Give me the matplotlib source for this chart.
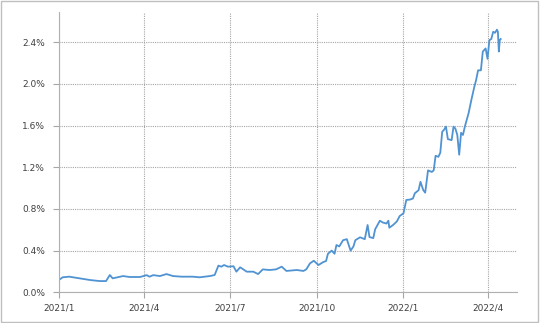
import matplotlib
matplotlib.use("Agg")
import matplotlib.pyplot as plt
from matplotlib.ticker import FuncFormatter, MultipleLocator
from matplotlib.patches import Rectangle
import numpy as np

# 日付と値 (%) — 画像から読み取り
dates = [
    "2021-01-01", "2021-01-05", "2021-01-12", "2021-01-23", "2021-02-03",
    "2021-02-13", "2021-02-20", "2021-02-24", "2021-02-27", "2021-03-10",
    "2021-03-17", "2021-03-28", "2021-04-04", "2021-04-07", "2021-04-11",
    "2021-04-18", "2021-04-25", "2021-05-02", "2021-05-11", "2021-05-23",
    "2021-05-30", "2021-06-10", "2021-06-15", "2021-06-19", "2021-06-22",
    "2021-06-25", "2021-06-29", "2021-07-05", "2021-07-08", "2021-07-12",
    "2021-07-19", "2021-07-26", "2021-07-31", "2021-08-05", "2021-08-12",
    "2021-08-19", "2021-08-25", "2021-08-30", "2021-09-10", "2021-09-17",
    "2021-09-20", "2021-09-24", "2021-09-28", "2021-10-03", "2021-10-08",
    "2021-10-11", "2021-10-13", "2021-10-17", "2021-10-20", "2021-10-22",
    "2021-10-25", "2021-10-29", "2021-11-02", "2021-11-04", "2021-11-06",
    "2021-11-09", "2021-11-11", "2021-11-16", "2021-11-21", "2021-11-24",
    "2021-11-26", "2021-11-30", "2021-12-02", "2021-12-07", "2021-12-10",
    "2021-12-14", "2021-12-16", "2021-12-17", "2021-12-21", "2021-12-25",
    "2021-12-28", "2022-01-01", "2022-01-04", "2022-01-08", "2022-01-11",
    "2022-01-13", "2022-01-17", "2022-01-19", "2022-01-22", "2022-01-24",
    "2022-01-27", "2022-01-31", "2022-02-02", "2022-02-04", "2022-02-07",
    "2022-02-09", "2022-02-11", "2022-02-13", "2022-02-15", "2022-02-17",
    "2022-02-21", "2022-02-23", "2022-02-25", "2022-02-27", "2022-03-01",
    "2022-03-03", "2022-03-05", "2022-03-07", "2022-03-11", "2022-03-14",
    "2022-03-17", "2022-03-19", "2022-03-21", "2022-03-24", "2022-03-26",
    "2022-03-29", "2022-03-31", "2022-04-02", "2022-04-04", "2022-04-06",
    "2022-04-08", "2022-04-10", "2022-04-11", "2022-04-12", "2022-04-13",
    "2022-04-14",
]
values = [
    0.118, 0.144, 0.150, 0.134, 0.118,
    0.108, 0.108, 0.166, 0.134, 0.156,
    0.147, 0.147, 0.165, 0.150, 0.165,
    0.156, 0.175, 0.156, 0.150, 0.150,
    0.144, 0.156, 0.166, 0.256, 0.246,
    0.262, 0.246, 0.250, 0.198, 0.240,
    0.198, 0.198, 0.175, 0.220, 0.214,
    0.220, 0.246, 0.205, 0.214, 0.205,
    0.220, 0.278, 0.303, 0.262, 0.290,
    0.300, 0.370, 0.400, 0.370, 0.454,
    0.440, 0.500, 0.510, 0.454, 0.400,
    0.440, 0.500, 0.528, 0.510, 0.646,
    0.530, 0.520, 0.605, 0.687, 0.670,
    0.660, 0.687, 0.620, 0.646, 0.680,
    0.732, 0.758, 0.886, 0.890, 0.900,
    0.950, 0.980, 1.060, 0.980, 0.956,
    1.170, 1.155, 1.170, 1.310, 1.300,
    1.340, 1.540, 1.560, 1.590, 1.470,
    1.460, 1.590, 1.570, 1.510, 1.320,
    1.530, 1.510, 1.590, 1.720, 1.850,
    1.970, 2.040, 2.130, 2.130, 2.310,
    2.340, 2.240, 2.420, 2.430, 2.500,
    2.490, 2.520, 2.500, 2.310, 2.420,
    2.430,
]
x_ticks = ["2021-01-01", "2021-04-01", "2021-07-01", "2021-10-01", "2022-01-01", "2022-04-01"]
x_labels = ["2021/1", "2021/4", "2021/7", "2021/10", "2022/1", "2022/4"]

x = np.array(dates, dtype="datetime64[D]")
y = np.array(values)

fig = plt.figure(figsize=(5.4, 3.23), dpi=100)
fig.patch.set_facecolor("white")
ax = fig.add_axes([0.109, 0.095, 0.848, 0.868])

ax.plot(x, y, color="#5093d2", linewidth=1.3)

ax.set_xlim(np.datetime64("2021-01-01"), np.datetime64("2022-05-01"))
ax.set_ylim(0, 2.69)
ax.yaxis.set_major_locator(MultipleLocator(0.4))
ax.yaxis.set_major_formatter(FuncFormatter(lambda v, p: f"{v:.1f}%"))
ax.set_xticks(np.array(x_ticks, dtype="datetime64[D]"))
ax.set_xticklabels(x_labels)

ax.grid(True, color="#a6a6a6", linestyle=(0, (1, 1)), linewidth=0.8)
ax.set_axisbelow(True)
for s in ["top", "right"]:
    ax.spines[s].set_visible(False)
for s in ["left", "bottom"]:
    ax.spines[s].set_color("#b0b0b0")
    ax.spines[s].set_linewidth(0.8)
ax.tick_params(axis="both", colors="#a6a6a6", labelcolor="#404040", labelsize=6.5, length=4, width=0.8)
ax.tick_params(axis="y", pad=6)
ax.tick_params(axis="x", pad=4)

# 外枠
fig.patches.append(Rectangle((0.002, 0.003), 0.995, 0.993, transform=fig.transFigure,
                             fill=False, edgecolor="#bfbfbf", linewidth=1.0))

fig.savefig("out.png", dpi=100)
